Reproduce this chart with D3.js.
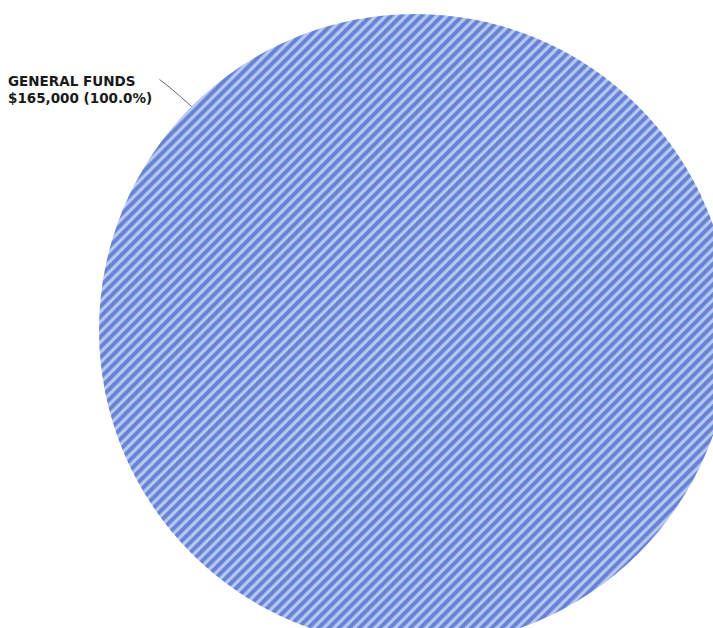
<!DOCTYPE html>
<html>
<head>
<meta charset="utf-8">
<script src="https://cdn.jsdelivr.net/npm/d3@7"></script>
<style>
  html, body { margin: 0; padding: 0; background: #ffffff; overflow: hidden; }
  svg { display: block; }
  .lbl { font-family: "DejaVu Sans", "Open Sans", sans-serif; font-weight: 700; font-size: 13.5px; fill: #1a1a1a; }
</style>
</head>
<body>
<svg id="chart" width="713" height="628"></svg>
<script>
// Funding sources
const categories = ["GENERAL FUNDS"];
const amounts = [165000];

const W = 713, H = 628;
const cx = 415, cy = 330, R = 316;

const svg = d3.select("#chart");

// Diagonal hatch fill for the slice
const period = 7.2;
const defs = svg.append("defs");
const pat = defs.append("pattern")
  .attr("id", "hatch")
  .attr("patternUnits", "userSpaceOnUse")
  .attr("width", period)
  .attr("height", 10)
  .attr("patternTransform", "rotate(45)");
pat.append("rect").attr("width", period).attr("height", 10).attr("fill", "#6682d2");
pat.append("rect").attr("x", 0.5).attr("width", period * 0.45).attr("height", 10).attr("fill", "#b8c8f4");

const total = d3.sum(amounts);
const pie = d3.pie().sort(null).value(d => d)(amounts);
const arc = d3.arc().innerRadius(0).outerRadius(R);

const g = svg.append("g").attr("transform", `translate(${cx},${cy})`);
g.selectAll("path.slice")
  .data(pie)
  .enter().append("path")
  .attr("class", "slice")
  .attr("d", arc)
  .attr("fill", "url(#hatch)");

// Leader line and label, anchored on the upper-left of the rim
const fmtMoney = d3.format("$,.0f");
const fmtPct = d3.format(".1f");
const labelAngle = -Math.PI / 4;
const rim = [Math.sin(labelAngle) * R, -Math.cos(labelAngle) * R];
const elbow = [rim[0] - 22, rim[1] - 20];
const tip = [rim[0] - 32, rim[1] - 27];

g.append("path")
  .attr("d", `M${rim[0]},${rim[1]} Q${elbow[0]},${elbow[1]} ${tip[0]},${tip[1]}`)
  .attr("fill", "none")
  .attr("stroke", "#5a6480")
  .attr("stroke-width", 1);

const txt = svg.append("text")
  .attr("class", "lbl")
  .attr("x", 8)
  .attr("y", cy + tip[1] + 6);
pie.forEach((d, i) => {
  txt.append("tspan").attr("x", 8).attr("dy", 0).text(categories[i]);
  txt.append("tspan").attr("x", 8).attr("dy", 17)
    .text(`${fmtMoney(amounts[i])} (${fmtPct(amounts[i] / total * 100)}%)`);
});
</script>
</body>
</html>
